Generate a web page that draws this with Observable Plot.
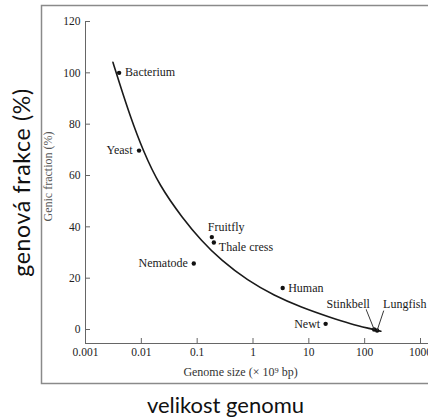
<!DOCTYPE html>
<html>
<head>
<meta charset="utf-8">
<script src="https://cdn.jsdelivr.net/npm/d3@7"></script>
<script src="https://cdn.jsdelivr.net/npm/@observablehq/plot@0.6"></script>
<style>
  html, body { margin: 0; padding: 0; overflow: hidden; background: white; }
  #chart { width: 428px; height: 419px; }
  .bigy text { letter-spacing: 0.7px; }
</style>
</head>
<body>
<div id="chart"></div>
<script>
// ---- data ----
const organisms = ["Bacterium", "Yeast", "Fruitfly", "Thale cress", "Nematode", "Human", "Newt", "Stinkbell", "Lungfish"];
const genomeSize = [0.004, 0.0091, 0.183, 0.199, 0.087, 3.4, 20, 148, 167];   // x 10^9 bp
const genicFraction = [100, 69.7, 36, 33.9, 25.7, 16.2, 2.2, 0, -0.4];       // %

const curveSize = [0.0031, 0.0041, 0.0062, 0.0107, 0.021, 0.056, 0.118, 0.27, 0.8, 2.4, 7.2, 25, 56, 128, 195];
const curveFraction = [104.1, 95.7, 83.6, 69.7, 56.1, 43.1, 34.7, 26.9, 19.1, 13.2, 8.7, 4.6, 2.2, 0.3, -0.7];

const xTicks = [0.001, 0.01, 0.1, 1, 10, 100, 1000];
const xTickLabels = ["0.001", "0.01", "0.1", "1", "10", "100", "1000"];
const yTicks = [0, 20, 40, 60, 80, 100, 120];
const xDomain = [0.001, 1000];
const yDomain = [-5.45, 120];

const xTitle = "Genome size (\u00d7 10\u2079 bp)";
const yTitle = "Genic fraction (%)";
const bigXTitle = "velikost genomu";
const bigYTitle = "genová frakce (%)";

// ---- label layout (style only) ----
const labelLayout = {
  "Bacterium":   {dx: 6,   dy: -1,    anchor: "start"},
  "Yeast":       {dx: -6.5,dy: 0,     anchor: "end"},
  "Fruitfly":    {dx: -4,  dy: -9.5,  anchor: "start"},
  "Thale cress": {dx: 5,   dy: 4.7,   anchor: "start"},
  "Nematode":    {dx: -6,  dy: 0,     anchor: "end"},
  "Human":       {dx: 5.5, dy: 0,     anchor: "start"},
  "Newt":        {dx: -5.5,dy: 0,     anchor: "end"},
  "Stinkbell":   {dx: -26, dy: -25.5, anchor: "middle"},
  "Lungfish":    {dx: 6,   dy: -26.5, anchor: "start"}
};
const leaderLayout = {
  "Stinkbell": {length: 21.5, rotate: -21.8},
  "Lungfish":  {length: 20.6, rotate: 18.4}
};

const points = organisms.map((name, i) => ({name, size: genomeSize[i], fraction: genicFraction[i]}));
const curve = curveSize.map((s, i) => ({size: s, fraction: curveFraction[i]}));

const serif = "'Liberation Serif', 'Times New Roman', serif";
const sans = "Lato, 'Open Sans', sans-serif";
const lineShape = {draw(context, l) { context.moveTo(0, 0); context.lineTo(0, -l); }};

const W = 428, H = 419, mL = 85, mR = 0, mT = 21, mB = 76;
const tickLen = 5;

const labelMarks = points.map(p => {
  const L = labelLayout[p.name];
  return Plot.text([p], {
    x: "size", y: "fraction", text: "name",
    dx: L.dx, dy: L.dy, textAnchor: L.anchor,
    fontSize: 12, fontFamily: serif, fill: "#1a1a1a"
  });
});
const leaderMarks = points.filter(p => leaderLayout[p.name]).map(p => {
  const L = leaderLayout[p.name];
  return Plot.vector([p], {
    x: "size", y: "fraction", length: L.length, rotate: L.rotate,
    anchor: "start", shape: lineShape, stroke: "#333", strokeWidth: 0.9
  });
});

const chart = Plot.plot({
  width: W,
  height: H,
  marginLeft: mL,
  marginRight: mR,
  marginTop: mT,
  marginBottom: mB,
  style: {background: "white", fontFamily: serif},
  x: {type: "log", domain: xDomain, range: [85, 420]},
  y: {domain: yDomain},
  marks: [
    Plot.frame({stroke: "#8a8a8a", strokeWidth: 1.5, insetLeft: -44, insetTop: -16, insetBottom: -40, insetRight: -80}),
    Plot.ruleX([xDomain[0]], {stroke: "#666", strokeWidth: 1}),
    Plot.ruleY([yDomain[0]], {stroke: "#666", strokeWidth: 1}),
    // inward tick marks
    Plot.tickX(xTicks, {x: d => d, insetTop: (H - mT - mB) - tickLen, stroke: "#666", strokeWidth: 1}),
    Plot.tickY(yTicks, {y: d => d, insetRight: (W - mL - mR) - tickLen, stroke: "#666", strokeWidth: 1}),
    // tick labels
    Plot.axisX({ticks: xTicks, tickSize: 0, tickPadding: 4, tickFormat: d => xTickLabels[xTicks.indexOf(d)],
                fontSize: 11.5, fontFamily: serif, fill: "#222", label: null}),
    Plot.axisY({ticks: yTicks, tickSize: 0, tickPadding: 5, tickFormat: d => String(d),
                fontSize: 11.5, fontFamily: serif, fill: "#222", label: null}),
    Plot.line(curve, {x: "size", y: "fraction", curve: "basis", stroke: "#1a1a1a", strokeWidth: 1.6}),
    Plot.dot(points, {x: "size", y: "fraction", r: 2.2, fill: "#111", stroke: "none"}),
    ...leaderMarks,
    ...labelMarks,
    Plot.text([xTitle], {text: d => d, frameAnchor: "bottom", textAnchor: "middle", lineAnchor: "middle",
                         dx: -16.5, dy: 29, fontSize: 12, fontFamily: serif, fill: "#333"}),
    Plot.text([yTitle], {text: d => d, frameAnchor: "left", textAnchor: "middle", lineAnchor: "middle",
                         rotate: -90, dx: -37, dy: -6, fontSize: 12, fontFamily: serif, fill: "#555"}),
    Plot.text([bigXTitle], {text: d => d, frameAnchor: "bottom", textAnchor: "middle", lineAnchor: "middle",
                            dx: -31.5, dy: 62.3, fontSize: 22, fontFamily: sans, fill: "#111"}),
    Plot.text([bigYTitle], {text: d => d, frameAnchor: "left", textAnchor: "middle", lineAnchor: "middle",
                            rotate: -90, dx: -63, fontSize: 23, fontFamily: sans, fill: "#111", className: "bigy"})
  ]
});
document.getElementById("chart").appendChild(chart);
</script>
</body>
</html>
